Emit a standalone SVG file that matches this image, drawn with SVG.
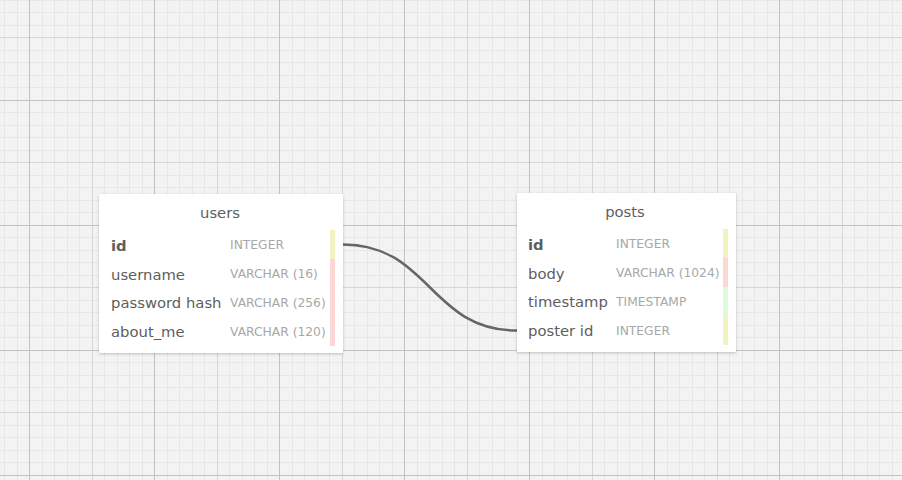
<svg xmlns="http://www.w3.org/2000/svg" width="902" height="480" viewBox="0 0 902 480">
  <defs>
    <filter id="shadow" x="-10%" y="-10%" width="120%" height="125%">
      <feDropShadow dx="0" dy="1" stdDeviation="1.5" flood-color="#000" flood-opacity="0.22"/>
    </filter>
  </defs>
  <style>
    .minor { stroke: #e7e7e7; stroke-width: 1; fill: none; }
    .light { stroke: #d6d6d6; stroke-width: 1; fill: none; }
    .dark { stroke: #c2c2c2; stroke-width: 1; fill: none; }
    .card { fill: #ffffff; filter: url(#shadow); }
    .title { font-family: "DejaVu Sans", Verdana, sans-serif; font-size: 14.8px; fill: #606060; text-anchor: middle; }
    .name { font-family: "DejaVu Sans", Verdana, sans-serif; font-size: 14.8px; fill: #5e5e5e; }
    .pk { font-weight: bold; }
    .type { font-family: "DejaVu Sans", Verdana, sans-serif; font-size: 12.3px; fill: #a8a8a8; }
    .y { fill: #f3f3c2; }
    .p { fill: #fdd6d6; }
    .g { fill: #ddfbda; }
    .conn { fill: none; stroke: #666666; stroke-width: 2.5; }
  </style>

  <g id="grid">
    <rect x="0" y="0" width="902" height="480" fill="#f3f3f3"/>
    <path class="minor" d="M4.5 0V480M17.5 0V480M42.5 0V480M54.5 0V480M67.5 0V480M79.5 0V480M104.5 0V480M117.5 0V480M129.5 0V480M142.5 0V480M167.5 0V480M179.5 0V480M192.5 0V480M204.5 0V480M229.5 0V480M242.5 0V480M254.5 0V480M267.5 0V480M292.5 0V480M304.5 0V480M317.5 0V480M329.5 0V480M354.5 0V480M367.5 0V480M379.5 0V480M392.5 0V480M417.5 0V480M429.5 0V480M442.5 0V480M454.5 0V480M479.5 0V480M492.5 0V480M504.5 0V480M517.5 0V480M542.5 0V480M554.5 0V480M567.5 0V480M579.5 0V480M604.5 0V480M617.5 0V480M629.5 0V480M642.5 0V480M667.5 0V480M679.5 0V480M692.5 0V480M704.5 0V480M729.5 0V480M742.5 0V480M754.5 0V480M767.5 0V480M792.5 0V480M804.5 0V480M817.5 0V480M829.5 0V480M854.5 0V480M867.5 0V480M879.5 0V480M892.5 0V480
      M0 0.5H902M0 12.5H902M0 25.5H902M0 50.5H902M0 62.5H902M0 75.5H902M0 87.5H902M0 112.5H902M0 125.5H902M0 137.5H902M0 150.5H902M0 175.5H902M0 187.5H902M0 200.5H902M0 212.5H902M0 237.5H902M0 250.5H902M0 262.5H902M0 275.5H902M0 300.5H902M0 312.5H902M0 325.5H902M0 337.5H902M0 362.5H902M0 375.5H902M0 387.5H902M0 400.5H902M0 425.5H902M0 437.5H902M0 450.5H902M0 462.5H902"/>
    <path class="light" d="M92.5 0V480M217.5 0V480M342.5 0V480M467.5 0V480M592.5 0V480M717.5 0V480M842.5 0V480M0 37.5H902M0 162.5H902M0 287.5H902M0 412.5H902"/>
    <path class="dark" d="M29.5 0V480M154.5 0V480M279.5 0V480M404.5 0V480M529.5 0V480M654.5 0V480M779.5 0V480M0 100.5H902M0 225.5H902M0 350.5H902M0 475.5H902"/>
  </g>

  <g id="connectors">
    <path class="conn" d="M343 244.5C430 244.5 430 330.5 517 330.5"/>
  </g>

  <g id="node-users">
    <rect class="card" x="99" y="194" width="244" height="159"/>
    <text class="title" x="220" y="217.5">users</text>
    <rect class="y" x="330" y="230" width="5" height="29"/>
    <rect class="p" x="330" y="259" width="5" height="87"/>
    <text class="name pk" x="111" y="250.5">id</text>
    <text class="type" x="230" y="249">INTEGER</text>
    <text class="name" x="111" y="279.5">username</text>
    <text class="type" x="230" y="278">VARCHAR (16)</text>
    <text class="name" x="111" y="308">password hash</text>
    <text class="type" x="230" y="306.5">VARCHAR (256)</text>
    <text class="name" x="111" y="336.5">about_me</text>
    <text class="type" x="230" y="335.5">VARCHAR (120)</text>
  </g>

  <g id="node-posts">
    <rect class="card" x="517" y="193" width="219" height="159"/>
    <text class="title" x="625" y="217">posts</text>
    <rect class="y" x="723" y="229" width="5" height="29"/>
    <rect class="p" x="723" y="258" width="5" height="29"/>
    <rect class="g" x="723" y="287" width="5" height="29"/>
    <rect class="y" x="723" y="316" width="5" height="29"/>
    <text class="name pk" x="528" y="249.5">id</text>
    <text class="type" x="616" y="248">INTEGER</text>
    <text class="name" x="528" y="278.5">body</text>
    <text class="type" x="616" y="277">VARCHAR (1024)</text>
    <text class="name" x="528" y="307">timestamp</text>
    <text class="type" x="616" y="305.5">TIMESTAMP</text>
    <text class="name" x="528" y="335.5">poster id</text>
    <text class="type" x="616" y="334.5">INTEGER</text>
  </g>
</svg>
